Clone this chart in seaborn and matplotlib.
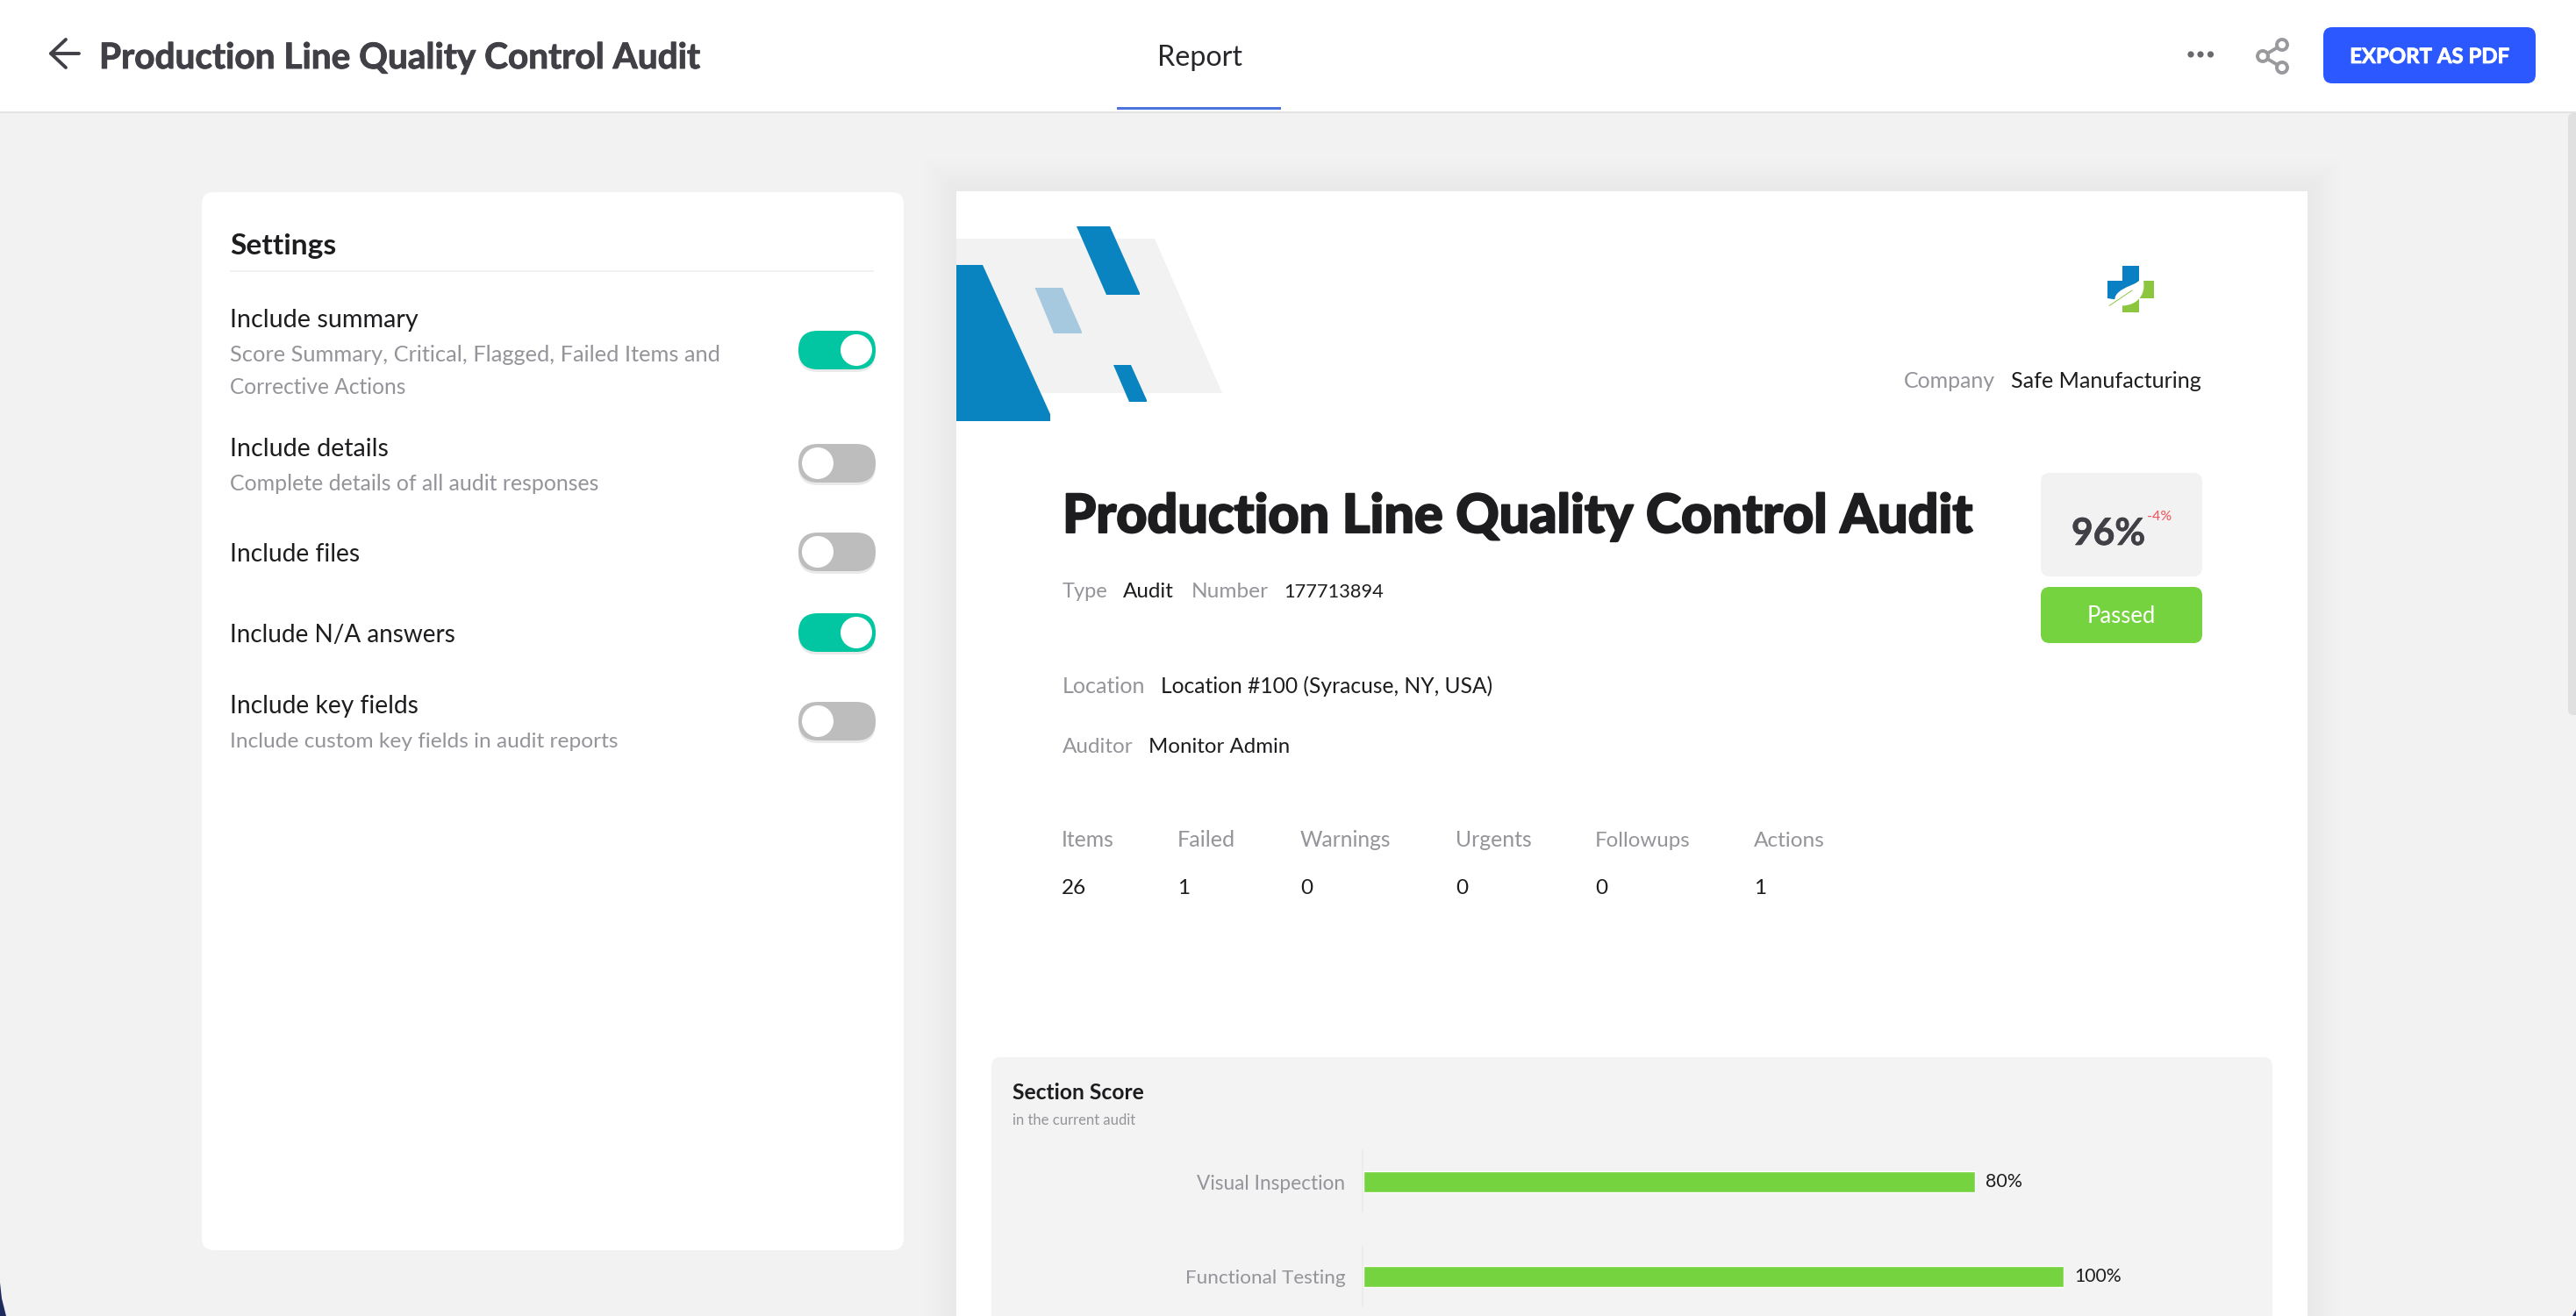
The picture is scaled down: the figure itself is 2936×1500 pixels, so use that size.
import matplotlib
matplotlib.use("Agg")
import matplotlib.pyplot as plt
import matplotlib.patheffects as pe
import seaborn as sns
import pandas as pd
from matplotlib.patches import FancyBboxPatch, Polygon, Circle, Rectangle, PathPatch
from matplotlib.path import Path

# ---- chart data ----
sections = ["Visual Inspection", "Functional Testing"]
bar_lengths = [87.3, 100]          # drawn length of each bar, as measured
score_labels = ["80%", "100%"]     # labels as printed next to the bars

# ---- page content ----
summary_heads = ["Items", "Failed", "Warnings", "Urgents", "Followups", "Actions"]
summary_values = ["26", "1", "0", "0", "0", "1"]
summary_x = [1210, 1342, 1482, 1659, 1818, 1999]
summary_head_w = [60, 66, 104, 87, 108, 81]

W, H = 2936, 1500
DPI = 100
FONT = ["Lato", "DejaVu Sans"]
GREEN = "#75d33f"
GREY = "#94949a"
INK = "#1d1d20"
DARK = "#404046"
BLUE = "#0a84c1"
BG = "#f2f2f2"

sns.set_theme(style="white")
plt.rcParams["font.family"] = FONT

fig = plt.figure(figsize=(W / DPI, H / DPI), dpi=DPI, facecolor=BG)
ui = fig.add_axes([0, 0, 1, 1], zorder=0)
ui.set_xlim(0, W)
ui.set_ylim(H, 0)
ui.axis("off")
renderer = fig.canvas.get_renderer()


def fit(t, width):
    t.set_fontsize(20)
    w = t.get_window_extent(renderer).width
    t.set_fontsize(20 * width / w)
    return t


def text(x, y, s, width, color=INK, weight="normal", ha="left", z=5, thick=0):
    t = ui.text(x, y, s, color=color, fontweight=weight, ha=ha, va="baseline", zorder=z)
    fit(t, width)
    if thick:
        t.set_path_effects([pe.withStroke(linewidth=thick, foreground=color)])
    return t


def rrect(x0, y0, x1, y1, r, color, z=2):
    p = FancyBboxPatch((x0, y0), x1 - x0, y1 - y0, boxstyle=f"round,pad=0,rounding_size={r}",
                       fc=color, ec="none", zorder=z)
    ui.add_patch(p)
    return p


def poly(pts, color, z=3):
    ui.add_patch(Polygon(pts, closed=True, fc=color, ec="none", zorder=z))


# ---- top bar ----
ui.add_patch(Rectangle((0, 0), W, 127, fc="white", ec="none", zorder=1))
ui.add_patch(Rectangle((0, 127), W, 2, fc="#e3e3e3", ec="none", zorder=1))
ui.plot([90, 58], [61, 61], color=DARK, lw=2.8, solid_capstyle="round", zorder=5)
ui.plot([75, 58, 75], [45, 61, 77], color=DARK, lw=2.8, solid_capstyle="round",
        solid_joinstyle="round", zorder=5)
text(113, 78, "Production Line Quality Control Audit", 685, color=DARK, weight="bold", thick=0.7)
text(1367, 75, "Report", 97, color="#26262b", ha="center")
ui.add_patch(Rectangle((1273, 122), 187, 3, fc="#4f73dc", ec="none", zorder=5))
for cx in (2497, 2508, 2519.5):
    ui.add_patch(Circle((cx, 62), 3.6, fc="#6a6a6e", ec="none", zorder=5))
share = [(2601, 51), (2579, 64), (2601, 77)]
ui.plot(*zip(*share), color="#9a9a9e", lw=2.8, zorder=5)
for c in share:
    ui.add_patch(Circle(c, 6, fc="white", ec="#9a9a9e", lw=2.8, zorder=6))
rrect(2648, 31, 2890, 95, 10, "#2b59ff", z=4)
text(2769, 72, "EXPORT AS PDF", 182, color="white", weight="bold", ha="center", thick=0.6)

# ---- scrollbar and window corners ----
rrect(2927, 129, 2950, 815, 6, "#e0e0e0", z=1)
poly([(0, 1462), (2, 1480), (7, 1500), (0, 1500)], "#1f2a5e")
poly([(2936, 1493), (2932, 1500), (2936, 1500)], "#1f2a5e")

# ---- settings panel ----
rrect(230, 219, 1030, 1425, 14, "white")
text(262, 290, "Settings", 121, weight="bold")
ui.add_patch(Rectangle((262, 308), 734, 2, fc="#f1f1f1", ec="none", zorder=3))
rows = [
    ("Include summary", 215, 373, 399, True,
     [("Score Summary, Critical, Flagged, Failed Items and", 558, 411.5), ("Corrective Actions", 201, 449)]),
    ("Include details", 181, 520, 528, False, [("Complete details of all audit responses", 421, 559)]),
    ("Include files", 148, 640, 629, False, []),
    ("Include N/A answers", 257, 731.5, 721, True, []),
    ("Include key fields", 215, 813.5, 822, False, [("Include custom key fields in audit reports", 443, 852.5)]),
]
for name, w, base, cy, on, subs in rows:
    text(262, base, name, w, color=INK)
    for s, sw, sy in subs:
        text(262, sy, s, sw, color=GREY)
    rrect(910, cy - 20, 998, cy + 25, 22, "#e9e9e9", z=3)
    rrect(910, cy - 22, 998, cy + 22, 22, "#02c5a1" if on else "#bdbdbd", z=3)
    ui.add_patch(Circle((976 if on else 932, cy), 18, fc="white", ec="none", zorder=4))

# ---- report page ----
x0, y0, x1, y1 = 1090, 218, 2630, 1560
n = 16
for i in range(n, 0, -1):
    f = 1 - i / n
    v = int(round(0xf2 + (0xe8 - 0xf2) * f))
    e = i * 2.5
    ui.add_patch(Rectangle((x0 - e, y0 - e), x1 - x0 + 2 * e, y1 - y0 + 2 * e,
                           fc=(v / 255, v / 255, v / 255), ec="none", zorder=0.5))
ui.add_patch(Rectangle((x0, y0), x1 - x0, y1 - y0, fc="white", ec="none", zorder=1))

# decorative header
poly([(1090, 272), (1316, 272), (1393, 448), (1090, 448)], "#f2f2f2", z=2)
poly([(1090, 302), (1120, 302), (1197, 472), (1197, 480), (1090, 480)], BLUE)
poly([(1227, 258), (1265, 258), (1299, 334), (1299, 336), (1261, 336)], BLUE)
poly([(1179.5, 328), (1211, 328), (1233, 378), (1233, 380), (1201, 380)], "#a6c9df")
poly([(1269, 416), (1289, 416), (1307, 456), (1307, 458), (1287, 458)], BLUE)

# logo
poly([(2419, 303), (2438, 303), (2438, 322), (2415, 342), (2402, 340), (2402, 320), (2419, 320)], "#0a80c4")
poly([(2438, 320), (2455, 320), (2455, 340), (2438, 340), (2438, 356), (2419, 356), (2419, 342), (2412, 342)], "#8cc63f")
leaf = Path([(2442, 315), (2437, 326), (2420, 325), (2412, 336),
             (2409, 341), (2410, 346), (2413, 348),
             (2430, 351), (2449, 340), (2442, 315)],
            [Path.MOVETO, Path.CURVE4, Path.CURVE4, Path.CURVE4,
             Path.CURVE4, Path.CURVE4, Path.CURVE4,
             Path.CURVE4, Path.CURVE4, Path.CURVE4])
ui.add_patch(PathPatch(leaf, fc="white", ec="none", zorder=4))
ui.plot([2404, 2430], [348.5, 331], color="#8cc63f", lw=0.7, zorder=5)

# header text
text(2169.5, 441.5, "Company", 104.5, color=GREY)
text(2292, 441.5, "Safe Manufacturing", 218, color=INK)
text(1211, 607, "Production Line Quality Control Audit", 1041, color=INK, weight="black", thick=1.4)

rrect(2326, 539, 2510, 657, 10, "#f2f2f2")
text(2361, 621, "96%", 84, color=DARK, weight="bold", thick=0.5)
text(2447, 593, "-4%", 28, color="#f0525a")
rrect(2326, 669, 2510, 733, 10, GREEN)
text(2418, 710, "Passed", 78, color="white", ha="center")

text(1211, 681, "Type", 52, color=GREY)
text(1280, 681, "Audit", 58, color=INK)
text(1358, 681, "Number", 88, color=GREY)
text(1463, 681, "177713894", 114, color=INK)
text(1211, 790, "Location", 95, color=GREY)
text(1323, 790, "Location #100 (Syracuse, NY, USA)", 379, color=INK)
text(1211, 858, "Auditor", 81, color=GREY)
text(1309, 858, "Monitor Admin", 161, color=INK)

for x, h, v, w in zip(summary_x, summary_heads, summary_values, summary_head_w):
    text(x, 965, h, w, color=GREY)
    t = ui.text(x, 1019, v, color=INK, ha="left", va="baseline", fontsize=17.5, zorder=5)

# section panel
rrect(1130, 1205, 2590, 1560, 10, "#f3f3f3")
text(1153.5, 1253, "Section Score", 149.5, color=INK, weight="bold")
text(1153.5, 1282, "in the current audit", 141.5, color=GREY)
for a, b in ((1310, 1382), (1420, 1490)):
    ui.plot([1553, 1553], [a, b], color="#ebebeb", lw=1.2, zorder=3)

# ---- bar chart, on its own axes ----
PX0, PX1 = 1554, 2352
PY_TOP, PY_BOT = 1293, 1500
ax = fig.add_axes([PX0 / W, 1 - PY_BOT / H, (PX1 - PX0) / W, (PY_BOT - PY_TOP) / H], zorder=3)
ax.patch.set_alpha(0)
df = pd.DataFrame({"section": sections, "length": bar_lengths})
sns.barplot(data=df, x="length", y="section", ax=ax, color=GREEN, saturation=1,
            width=24 / 108, order=sections)
ax.set_xlim(0, 100)
ax.set_ylim(-0.5 + (PY_BOT - PY_TOP) / 108, -0.5)
ax.set_xlabel("")
ax.set_ylabel("")
ax.set_xticks([])
sns.despine(ax=ax, left=True, bottom=True)
ax.tick_params(axis="y", length=0, pad=15)
for lab, w in zip(ax.get_yticklabels(), (169.5, 182.5)):
    lab.set_color(GREY)
    fit(lab, w)
vals = ax.bar_label(ax.containers[0], labels=score_labels, padding=9, color=INK)
for v, w in zip(vals, (42, 53.7)):
    fit(v, w)

fig.savefig("out.png", dpi=DPI, facecolor=BG)
